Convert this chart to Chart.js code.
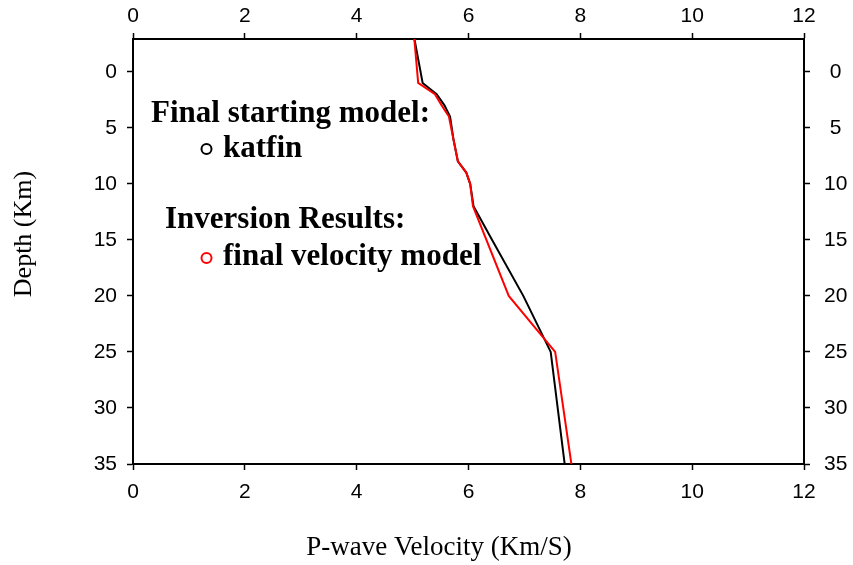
<!DOCTYPE html>
<html>
<head>
<meta charset="utf-8">
<script src="https://cdn.jsdelivr.net/npm/chart.js@4/dist/chart.umd.min.js"></script>
<style>
html,body{margin:0;padding:0;background:#fff;}
#wrap{width:853px;height:565px;position:relative;}
</style>
</head>
<body>
<div id="wrap"><canvas id="c" width="853" height="565"></canvas></div>
<script>
// ---- data ----
const katfinDepth    = [-3, 1, 2, 3, 4, 6, 8, 9, 10, 12, 15, 20, 25, 35];
const katfinVelocity = [5.03, 5.18, 5.43, 5.57, 5.67, 5.73, 5.81, 5.96, 6.03, 6.09, 6.42, 6.98, 7.47, 7.72];
const finalDepth     = [-3, 1, 2, 3, 4, 6, 8, 9, 10, 12, 20, 25, 35];
const finalVelocity  = [5.03, 5.10, 5.40, 5.52, 5.65, 5.73, 5.81, 5.96, 6.03, 6.08, 6.72, 7.55, 7.84];
const velocityTicks  = [0, 2, 4, 6, 8, 10, 12];
const depthTicks     = [0, 5, 10, 15, 20, 25, 30, 35];

const toPoints = (vs, ds) => vs.map((v, i) => ({x: v, y: ds[i]}));

const tickFont = {family: "'Liberation Sans', Arial, Helvetica, sans-serif", size: 21};
const serif = "'Liberation Serif', 'Times New Roman', serif";

function fixedTicks(list){
  return function(scale){ scale.ticks = list.map(v => ({value: v})); };
}
function xAxis(pos, height, pad){
  return {
    type: 'linear', position: pos, min: 0, max: 12,
    afterBuildTicks: fixedTicks(velocityTicks),
    afterFit: s => { s.height = height; },
    grid: {drawOnChartArea: false, drawTicks: true, tickLength: 6, tickColor: '#000', tickWidth: 1.5},
    border: {display: true, color: '#000', width: 2},
    ticks: {color: '#000', font: tickFont, padding: pad, maxRotation: 0, autoSkip: false}
  };
}
function yAxis(pos, width, pad, align){
  return {
    type: 'linear', position: pos, min: -2.92, max: 35, reverse: true,
    afterBuildTicks: fixedTicks(depthTicks),
    afterFit: s => { s.width = width; },
    grid: {drawOnChartArea: false, drawTicks: true, tickLength: 6, tickColor: '#000', tickWidth: 1.5},
    border: {display: true, color: '#000', width: 2},
    ticks: {color: '#000', font: tickFont, padding: pad, autoSkip: false, crossAlign: align}
  };
}

const annot = {
  id: 'annot',
  afterDraw(chart){
    const ctx = chart.ctx;
    ctx.save();
    ctx.fillStyle = '#000';
    // axis titles
    ctx.textAlign = 'center';
    ctx.textBaseline = 'middle';
    ctx.font = '27px ' + serif;
    ctx.fillText('P-wave Velocity (Km/S)', 439, 548);
    ctx.save();
    ctx.font = '26px ' + serif;
    ctx.translate(24, 234);
    ctx.rotate(-Math.PI / 2);
    ctx.fillText('Depth (Km)', 0, 0);
    ctx.restore();
    // legend-like annotation
    ctx.textAlign = 'left';
    ctx.textBaseline = 'alphabetic';
    ctx.font = 'bold 31px ' + serif;
    ctx.fillText('Final starting model:', 151, 122);
    ctx.fillText('katfin', 223, 157);
    ctx.fillText('Inversion Results:', 165, 228);
    ctx.fillText('final velocity model', 223, 265);
    ctx.lineWidth = 2;
    ctx.strokeStyle = '#000';
    ctx.beginPath(); ctx.arc(206.5, 149, 5, 0, Math.PI * 2); ctx.stroke();
    ctx.strokeStyle = '#ff0000';
    ctx.beginPath(); ctx.arc(206.5, 258, 5, 0, Math.PI * 2); ctx.stroke();
    ctx.restore();
  }
};

new Chart(document.getElementById('c'), {
  type: 'scatter',
  data: {
    datasets: [
      {label: 'final velocity model', data: toPoints(finalVelocity, finalDepth),
       showLine: true, borderColor: '#ff0000', borderWidth: 2, pointRadius: 0, order: 0,
       xAxisID: 'x', yAxisID: 'y'},
      {label: 'katfin', data: toPoints(katfinVelocity, katfinDepth),
       showLine: true, borderColor: '#000000', borderWidth: 2, pointRadius: 0, order: 1,
       xAxisID: 'x', yAxisID: 'y'}
    ]
  },
  options: {
    responsive: false, animation: false,
    layout: {padding: 0},
    plugins: {legend: {display: false}, tooltip: {enabled: false}},
    scales: {
      x: xAxis('bottom', 101, 10),
      x2: xAxis('top', 39, 4),
      y: yAxis('left', 133, 10, 'near'),
      y2: yAxis('right', 49, 14, 'center')
    }
  },
  plugins: [annot]
});
</script>
</body>
</html>
